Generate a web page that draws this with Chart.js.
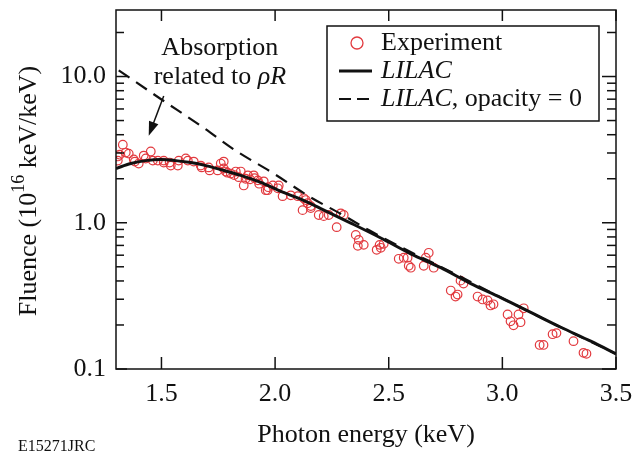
<!DOCTYPE html>
<html lang="en">
<head>
  <meta charset="UTF-8">
  <title>Fluence vs photon energy</title>
  <style>
    html, body { margin: 0; padding: 0; background: #fff; }
    canvas { display: block; }
  </style>
</head>
<body>
  <canvas id="grafica" width="642" height="455"></canvas>
  <script src="https://cdn.jsdelivr.net/npm/chart.js"></script>
  <script>
    // Datos (keV, 10^16 keV/keV)
    const expEnergy = [1.308, 1.308, 1.316, 1.330, 1.343, 1.356, 1.378, 1.383, 1.400, 1.422,
      1.431, 1.453, 1.462, 1.484, 1.510, 1.510, 1.536, 1.541, 1.572, 1.576,
      1.607, 1.616, 1.642, 1.673, 1.677, 1.708, 1.712, 1.747, 1.761, 1.774,
      1.774, 1.783, 1.790, 1.805, 1.820, 1.827, 1.840, 1.849, 1.862, 1.870,
      1.880, 1.890, 1.906, 1.910, 1.924, 1.930, 1.950, 1.959, 1.967, 1.970,
      1.990, 2.012, 2.016, 2.033, 2.069, 2.100, 2.121, 2.126, 2.135, 2.143,
      2.157, 2.157, 2.192, 2.214, 2.236, 2.271, 2.289, 2.302, 2.355, 2.364,
      2.368, 2.390, 2.447, 2.460, 2.465, 2.478, 2.544, 2.566, 2.583, 2.588,
      2.597, 2.654, 2.663, 2.676, 2.698, 2.773, 2.794, 2.803, 2.816, 2.829,
      2.891, 2.913, 2.935, 2.948, 2.961, 3.023, 3.036, 3.049, 3.071, 3.080,
      3.094, 3.164, 3.181, 3.221, 3.238, 3.313, 3.357, 3.370];
    const expFluence = [2.84, 2.66, 2.92, 3.42, 3.02, 2.97, 2.71, 2.62, 2.54, 2.88,
      2.75, 3.07, 2.66, 2.66, 2.66, 2.58, 2.58, 2.46, 2.46, 2.66,
      2.75, 2.66, 2.62, 2.46, 2.39, 2.39, 2.28, 2.28, 2.54, 2.62,
      2.35, 2.24, 2.20, 2.17, 2.12, 2.24, 2.05, 2.24, 1.80, 2.00,
      2.11, 1.98, 2.11, 2.02, 1.95, 1.85, 1.92, 1.67, 1.67, 1.75,
      1.80, 1.72, 1.80, 1.52, 1.54, 1.52, 1.22, 1.47, 1.43, 1.36,
      1.26, 1.30, 1.13, 1.11, 1.13, 0.933, 1.16, 1.13, 0.826, 0.695,
      0.764, 0.706, 0.653, 0.706, 0.674, 0.718, 0.567, 0.577, 0.577, 0.508,
      0.493, 0.508, 0.577, 0.623, 0.493, 0.344, 0.313, 0.323, 0.402, 0.384,
      0.313, 0.299, 0.294, 0.272, 0.277, 0.236, 0.212, 0.199, 0.236, 0.209,
      0.260, 0.146, 0.146, 0.173, 0.176, 0.155, 0.129, 0.127];

    const lilacEnergy = [1.30, 1.365, 1.431, 1.497, 1.563, 1.629, 1.695, 1.761, 1.849, 1.937,
      2.025, 2.113, 2.201, 2.333, 2.465, 2.597, 2.729, 2.861, 2.993, 3.125,
      3.257, 3.389, 3.50];
    const lilacFluence = [2.35, 2.54, 2.66, 2.71, 2.66, 2.58, 2.46, 2.31, 2.11, 1.89,
      1.64, 1.45, 1.25, 0.995, 0.787, 0.613, 0.493, 0.384, 0.308, 0.244,
      0.193, 0.155, 0.127];

    const noOpEnergy = [1.312, 1.497, 1.673, 1.827, 1.994, 2.157, 2.289, 2.420, 2.552, 2.772,
      2.993, 3.257, 3.50];
    const noOpFluence = [11.03, 7.02, 4.60, 3.11, 2.17, 1.49, 1.15, 0.878, 0.684, 0.463,
      0.308, 0.193, 0.127];

    const xTicks = [1.5, 2.0, 2.5, 3.0, 3.5];
    const yTicks = [0.1, 1, 10];
    const yMinor = [0.2, 0.3, 0.4, 0.5, 0.6, 0.7, 0.8, 0.9, 2, 3, 4, 5, 6, 7, 8, 9, 20];

    const rojo = '#e23a3f';
    const serif = "'Liberation Serif', 'Times New Roman', serif";

    const puntos = (xs, ys) => xs.map((v, i) => ({ x: v, y: ys[i] }));

    // Marco, marcas hacia dentro, titulos, leyenda y anotacion
    const decorado = {
      id: 'decorado',
      afterDraw(chart) {
        const { ctx, chartArea: a, scales: { x, y } } = chart;
        const linea = (x1, y1, x2, y2) => {
          ctx.beginPath(); ctx.moveTo(x1, y1); ctx.lineTo(x2, y2); ctx.stroke();
        };
        ctx.save();
        ctx.strokeStyle = '#111';
        ctx.lineWidth = 1.5;
        ctx.setLineDash([]);
        ctx.strokeRect(a.left, a.top, a.right - a.left, a.bottom - a.top);
        xTicks.forEach(v => {
          const px = x.getPixelForValue(v);
          linea(px, a.bottom, px, a.bottom - 12);
          linea(px, a.top, px, a.top + 11);
        });
        yTicks.forEach(v => {
          const py = y.getPixelForValue(v);
          linea(a.left, py, a.left + 11, py);
          linea(a.right, py, a.right - 14, py);
        });
        yMinor.forEach(v => {
          const py = y.getPixelForValue(v);
          linea(a.left, py, a.left + 8, py);
          linea(a.right, py, a.right - 9, py);
        });

        ctx.fillStyle = '#111';
        // titulo eje x
        ctx.font = '26px ' + serif;
        ctx.textAlign = 'center';
        ctx.textBaseline = 'middle';
        ctx.fillText('Photon energy (keV)', (a.left + a.right) / 2, 435);

        // titulo eje y con superindice
        ctx.save();
        ctx.translate(27, 191);
        ctx.rotate(-Math.PI / 2);
        const p1 = 'Fluence (10', p2 = '16', p3 = ' keV/keV)';
        ctx.font = '26px ' + serif;
        const w1 = ctx.measureText(p1).width, w3 = ctx.measureText(p3).width;
        ctx.font = '18px ' + serif;
        const w2 = ctx.measureText(p2).width;
        let cx = -(w1 + w2 + w3) / 2;
        ctx.textAlign = 'left';
        ctx.textBaseline = 'alphabetic';
        ctx.font = '26px ' + serif;
        ctx.fillText(p1, cx, 9); cx += w1;
        ctx.font = '18px ' + serif;
        ctx.fillText(p2, cx, -3); cx += w2;
        ctx.font = '26px ' + serif;
        ctx.fillText(p3, cx, 9);
        ctx.restore();

        // codigo de figura
        ctx.font = '16px ' + serif;
        ctx.textAlign = 'left';
        ctx.textBaseline = 'middle';
        ctx.fillText('E15271JRC', 18, 447);

        // anotacion
        ctx.font = '26px ' + serif;
        ctx.textAlign = 'center';
        ctx.textBaseline = 'alphabetic';
        const tx = x.getPixelForValue(1.757);
        ctx.fillText('Absorption', tx, y.getPixelForValue(16.1) + 9);
        const r1 = 'related to ', r2 = '\u03C1R';
        const wr1 = ctx.measureText(r1).width;
        ctx.font = 'italic 26px ' + serif;
        const wr2 = ctx.measureText(r2).width;
        ctx.textAlign = 'left';
        const ry = y.getPixelForValue(16.1) + 38;
        ctx.font = '26px ' + serif;
        ctx.fillText(r1, tx - (wr1 + wr2) / 2, ry);
        ctx.font = 'italic 26px ' + serif;
        ctx.fillText(r2, tx - (wr1 + wr2) / 2 + wr1, ry);

        // flecha
        const ax1 = x.getPixelForValue(1.510), ay1 = y.getPixelForValue(7.35);
        const ax2 = x.getPixelForValue(1.444), ay2 = y.getPixelForValue(3.94);
        const ang = Math.atan2(ay2 - ay1, ax2 - ax1);
        ctx.lineWidth = 1.5;
        linea(ax1, ay1, ax2 - 8 * Math.cos(ang), ay2 - 8 * Math.sin(ang));
        ctx.beginPath();
        ctx.moveTo(ax2, ay2);
        ctx.lineTo(ax2 - 14 * Math.cos(ang) + 5 * Math.sin(ang), ay2 - 14 * Math.sin(ang) - 5 * Math.cos(ang));
        ctx.lineTo(ax2 - 14 * Math.cos(ang) - 5 * Math.sin(ang), ay2 - 14 * Math.sin(ang) + 5 * Math.cos(ang));
        ctx.closePath();
        ctx.fill();

        // leyenda
        const lx = 327, ly = 26, lw = 272, lh = 95;
        ctx.lineWidth = 1.5;
        ctx.strokeRect(lx, ly, lw, lh);
        const filas = [43, 71, 99];
        ctx.strokeStyle = rojo;
        ctx.lineWidth = 1.3;
        ctx.beginPath(); ctx.arc(357, filas[0], 6, 0, Math.PI * 2); ctx.stroke();
        ctx.strokeStyle = '#111';
        ctx.lineWidth = 3;
        linea(339, filas[1], 372, filas[1]);
        ctx.lineWidth = 2.2;
        ctx.setLineDash([12, 6]);
        linea(339, filas[2], 372, filas[2]);
        ctx.setLineDash([]);
        ctx.textAlign = 'left';
        ctx.textBaseline = 'middle';
        ctx.font = '26px ' + serif;
        ctx.fillText('Experiment', 381, filas[0]);
        ctx.font = 'italic 26px ' + serif;
        ctx.fillText('LILAC', 381, filas[1]);
        ctx.fillText('LILAC', 381, filas[2]);
        const wl = ctx.measureText('LILAC').width;
        ctx.font = '26px ' + serif;
        ctx.fillText(', opacity = 0', 381 + wl, filas[2]);
        ctx.restore();
      }
    };

    const ctx = document.getElementById('grafica').getContext('2d');
    window.grafica = new Chart(ctx, {
      type: 'scatter',
      data: {
        datasets: [
          {
            label: 'LILAC',
            data: puntos(lilacEnergy, lilacFluence),
            showLine: true,
            borderColor: '#111',
            borderWidth: 3,
            pointRadius: 0,
            cubicInterpolationMode: 'monotone',
            order: 0
          },
          {
            label: 'LILAC, opacity = 0',
            data: puntos(noOpEnergy, noOpFluence),
            showLine: true,
            borderColor: '#111',
            borderWidth: 2.2,
            borderDash: [13, 8],
            pointRadius: 0,
            cubicInterpolationMode: 'monotone',
            order: 1
          },
          {
            label: 'Experiment',
            data: puntos(expEnergy, expFluence),
            showLine: false,
            pointStyle: 'circle',
            pointRadius: 4.3,
            pointBorderWidth: 1.2,
            pointBorderColor: rojo,
            pointBackgroundColor: 'rgba(0,0,0,0)',
            borderColor: rojo,
            backgroundColor: 'rgba(0,0,0,0)',
            order: 2
          }
        ]
      },
      options: {
        responsive: false,
        animation: false,
        layout: { padding: { left: 0, right: 26, top: 10, bottom: 0 } },
        plugins: {
          legend: { display: false },
          tooltip: { enabled: false }
        },
        scales: {
          x: {
            type: 'linear',
            min: 1.3,
            max: 3.5,
            grid: { display: false, drawTicks: false },
            border: { display: false },
            afterBuildTicks: s => { s.ticks = xTicks.map(v => ({ value: v })); },
            afterFit: s => { s.height = 86; s.paddingLeft = 0; s.paddingRight = 0; },
            ticks: {
              padding: 10,
              color: '#111',
              font: { family: serif, size: 26 },
              callback: v => Number(v).toFixed(1)
            }
          },
          y: {
            type: 'logarithmic',
            min: 0.1,
            max: 28.5,
            grid: { display: false, drawTicks: false },
            border: { display: false },
            afterBuildTicks: s => { s.ticks = yTicks.map(v => ({ value: v })); },
            afterFit: s => { s.width = 116; s.paddingTop = 0; s.paddingBottom = 0; },
            ticks: {
              padding: 10,
              color: '#111',
              font: { family: serif, size: 26 },
              callback: v => Number(v).toFixed(1)
            }
          }
        }
      },
      plugins: [decorado]
    });
  </script>
</body>
</html>
